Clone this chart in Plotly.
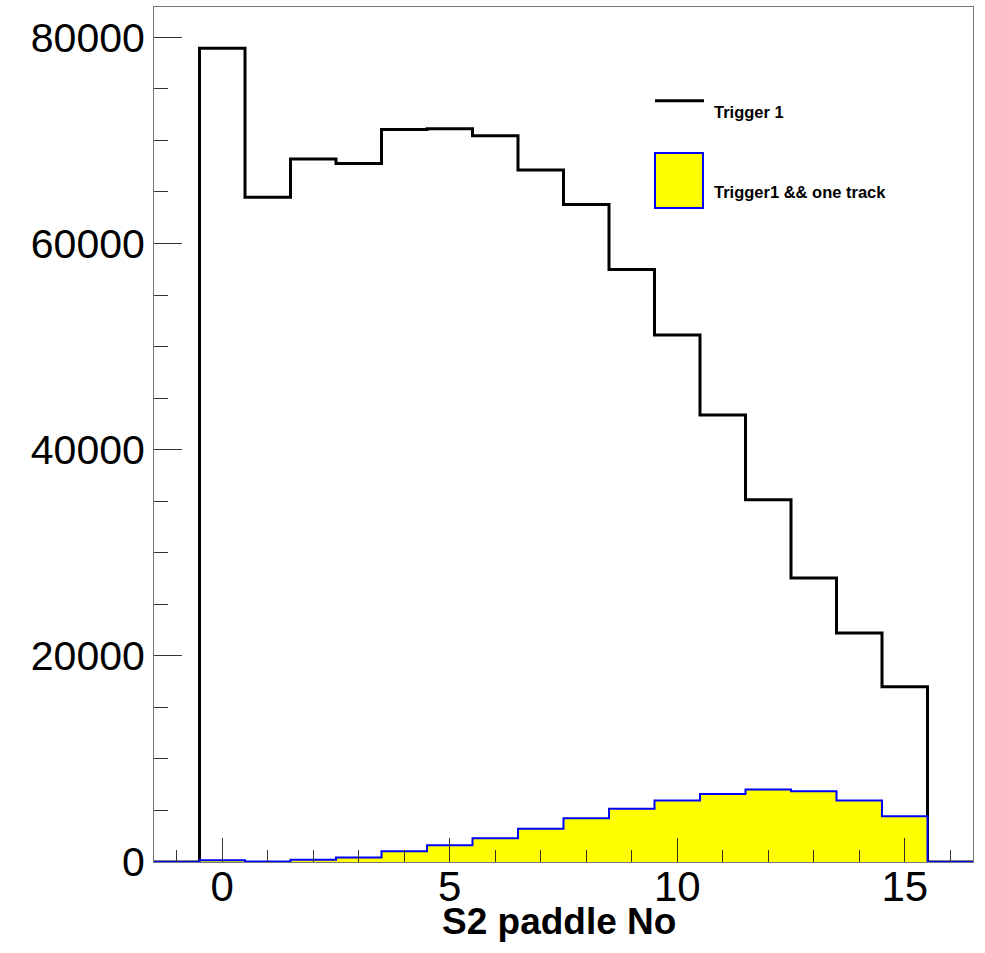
import plotly.graph_objects as go

# ---- data ----
paddle_no = list(range(0, 16))
trigger1 = [78950, 64490, 68200, 67750, 71050, 71140, 70460, 67140,
            63770, 57470, 51110, 43370, 35140, 27550, 22220, 16990]
trigger1_one_track = [175, 50, 210, 440, 1050, 1630, 2310, 3220,
                      4250, 5160, 5960, 6590, 7030, 6860, 5960, 4440]
x_range = [-1.5, 16.5]
y_range = [0, 82940]
x_title = "S2 paddle No"
legend_labels = ["Trigger 1", "Trigger1 && one track"]

# histogram step paths (lower bin edges, plus empty bins at both ends)
def step(vals):
    xs = [x_range[0]] + [c - 0.5 for c in paddle_no] + [paddle_no[-1] + 0.5, x_range[1]]
    ys = [0] + list(vals) + [0, 0]
    return xs, ys

FONT = "Liberation Sans, Arial, Helvetica, sans-serif"

L, R, T, B = 154, 12, 7, 90.5
W, H = 985, 953
pw, ph = W - L - R, H - T - B

def px(xp):
    return (xp - L) / pw

def py(yp):
    return (H - B - yp) / ph

fig = go.Figure()
bx, by = step(trigger1)
fig.add_trace(go.Scatter(x=bx, y=by, mode="lines", line_shape="hv",
                         line=dict(color="black", width=3), name=legend_labels[0],
                         showlegend=False, hoverinfo="skip"))
yx, yy = step(trigger1_one_track)
fig.add_trace(go.Scatter(x=yx, y=yy, mode="lines", line_shape="hv",
                         fill="tozeroy", fillcolor="#ffff00", xaxis="x2", yaxis="y",
                         line=dict(color="#0000ff", width=2), name=legend_labels[1],
                         showlegend=False, hoverinfo="skip"))

shapes = [
    dict(type="line", xref="paper", yref="paper", x0=px(655), x1=px(704),
         y0=py(100.7), y1=py(100.7), line=dict(color="black", width=3)),
    dict(type="rect", xref="paper", yref="paper", x0=px(655), x1=px(703),
         y0=py(208), y1=py(153), fillcolor="#ffff00", line=dict(color="#0000ff", width=2)),
]

annotations = [
    dict(text="<b>%s</b>" % legend_labels[0], xref="paper", yref="paper",
         x=px(712), y=py(112.5), xanchor="left", yanchor="middle", showarrow=False,
         font=dict(family=FONT, size=16.5, color="black")),
    dict(text="<b>%s</b>" % legend_labels[1], xref="paper", yref="paper",
         x=px(712), y=py(192.5), xanchor="left", yanchor="middle", showarrow=False,
         font=dict(family=FONT, size=16.5, color="black")),
    dict(text="<b>%s</b>" % x_title, xref="paper", yref="paper",
         x=px(559), y=py(922), xanchor="center", yanchor="middle", showarrow=False,
         font=dict(family=FONT, size=37, color="black")),
]

fig.update_layout(
    width=W, height=H,
    margin=dict(l=L, r=R, t=T, b=B, pad=0),
    paper_bgcolor="white", plot_bgcolor="white",
    showlegend=False,
    shapes=shapes, annotations=annotations,
    font=dict(family=FONT, color="black"),
    xaxis=dict(range=x_range, tick0=0, dtick=5, ticks="inside", ticklen=24,
               tickcolor="#333", tickwidth=1, showgrid=False, zeroline=False,
               showline=True, linecolor="#777", linewidth=1, mirror=True,
               showticklabels=False,
               minor=dict(dtick=1, tick0=0, ticks="inside", ticklen=12,
                          tickcolor="#333", showgrid=False)),
    # tick labels of the x axis, carried by an overlaid copy of it
    xaxis2=dict(range=x_range, matches="x", overlaying="x", anchor="free",
                position=py(862.5 - 4), side="bottom", tick0=0, dtick=5,
                ticks="", showline=False, showgrid=False, zeroline=False,
                tickfont=dict(family=FONT, size=42, color="black")),
    yaxis=dict(range=y_range, tick0=0, dtick=20000, ticks="inside", ticklen=28,
               tickcolor="#333", tickwidth=1, showgrid=False, zeroline=False,
               showline=True, linecolor="#777", linewidth=1, mirror=True,
               tickformat="d",
               tickfont=dict(family=FONT, size=41, color="black"),
               minor=dict(dtick=5000, tick0=0, ticks="inside", ticklen=14,
                          tickcolor="#333", showgrid=False)),
)

fig.write_html("out.html", config={"displayModeBar": False},
               post_script="document.body.style.margin='0';document.body.style.overflow='hidden';")
